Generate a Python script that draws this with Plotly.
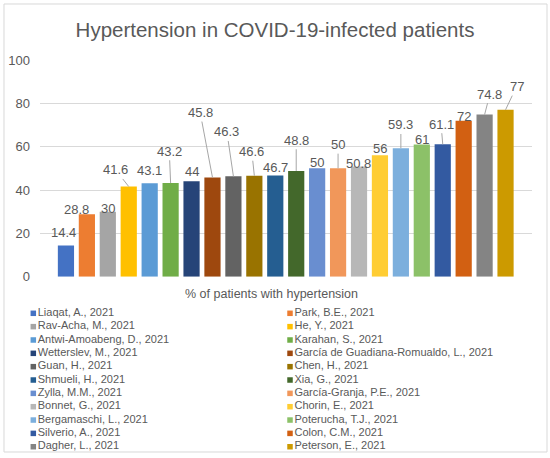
import plotly.graph_objects as go

# one series per study, as in the source spreadsheet
authors = [
    "Liaqat, A., 2021", "Park, B.E., 2021", "Rav-Acha, M., 2021", "He, Y., 2021",
    "Antwi-Amoabeng, D., 2021", "Karahan, S., 2021", "Wetterslev, M., 2021",
    "García de Guadiana-Romualdo, L., 2021", "Guan, H., 2021", "Chen, H., 2021",
    "Shmueli, H., 2021", "Xia, G., 2021", "Zylla, M.M., 2021", "García-Granja, P.E., 2021",
    "Bonnet, G., 2021", "Chorin, E., 2021", "Bergamaschi, L., 2021", "Poterucha, T.J., 2021",
    "Silverio, A., 2021", "Colon, C.M., 2021", "Dagher, L., 2021", "Peterson, E., 2021",
]
hypertension_pct = [14.4, 28.8, 30, 41.6, 43.1, 43.2, 44, 45.8, 46.3, 46.6, 46.7,
                     48.8, 50, 50, 50.8, 56, 59.3, 61, 61.1, 72, 74.8, 77]
bar_colors = [
    "#4472C4", "#ED7D31", "#A5A5A5", "#FFC000", "#5B9BD5", "#70AD47",
    "#264478", "#9E480E", "#636363", "#997300", "#255E91", "#43682B",
    "#698ED0", "#F1975A", "#B7B7B7", "#FFCD33", "#7CAFDD", "#8CC168",
    "#335AA1", "#D26012", "#848484", "#CC9A00",
]
axis_label = "% of patients with hypertension"
y_ticks = [0, 20, 40, 60, 80, 100]

# data label placement (px right, px up, leader line?) - Excel moved these around
label_offsets = [
    (-2.5, 12.8, False), (-10.4, 5, False), (0, 3.4, False), (-13.1, 16.6, True),
    (0, 13.3, False), (-1.3, 31.8, True), (0.6, 9.4, False), (-12.3, 64.9, True),
    (-6.5, 44.4, True), (-2.5, 24, True), (0, 8, False), (0, 30.7, True),
    (0, 6.2, False), (0, 23.7, True), (0, 2.8, False), (0, 6.7, False),
    (0, 23.2, True), (0, 5, False), (-1.7, 20.1, True), (0, 4.5, False),
    (5.3, 20.4, True), (11, 23.2, True),
]

FONT = "Liberation Sans, Arial, sans-serif"
TEXT = "#595959"
GRID = "#D9D9D9"

fig = go.Figure()

for i, (name, val, col) in enumerate(zip(authors, hypertension_pct, bar_colors)):
    fig.add_trace(go.Bar(
        x=[i], y=[val], name=name, marker=dict(color=col, line=dict(width=0)),
        width=0.774, showlegend=False, xaxis="x", yaxis="y",
    ))

# legend drawn as a small scatter, two columns filled row by row
fig.add_trace(go.Scatter(
    x=[i % 2 for i in range(len(authors))],
    y=[i // 2 for i in range(len(authors))],
    mode="markers+text",
    text=authors,
    textposition="middle right",
    textfont=dict(family=FONT, size=11, color=TEXT),
    marker=dict(symbol="square", size=5.5, color=bar_colors),
    cliponaxis=False, showlegend=False, hoverinfo="skip",
    xaxis="x2", yaxis="y2",
))

annotations = []
for i, (val, (dx, dy, leader)) in enumerate(zip(hypertension_pct, label_offsets)):
    ann = dict(x=i, y=val, xref="x", yref="y", text=f"{val:g}",
               font=dict(family=FONT, size=13, color=TEXT))
    if leader:
        ann.update(showarrow=True, ax=dx, ay=-dy, arrowhead=0, arrowwidth=1,
                   arrowcolor="#A6A6A6", standoff=0)
    else:
        ann.update(showarrow=False, xshift=dx, yshift=dy)
    annotations.append(ann)

annotations.append(dict(
    x=0.4803, y=0.4068, xref="paper", yref="paper", text=axis_label, showarrow=False,
    font=dict(family=FONT, size=12.5, color=TEXT),
))

fig.update_layout(
    width=550, height=458,
    margin=dict(l=30, r=18, t=60, b=3, autoexpand=False),
    paper_bgcolor="white", plot_bgcolor="white",
    barmode="overlay",
    font=dict(family=FONT, color=TEXT),
    title=dict(text="Hypertension in COVID-19-infected patients",
               x=0.5, xref="container", xanchor="center",
               y=0.9355, yref="container", yanchor="middle",
               font=dict(family=FONT, size=20.5, color=TEXT)),
    xaxis=dict(domain=[0.0199, 0.9994], range=[-1.24, 22.25], showticklabels=False,
               showgrid=False, zeroline=False, showline=False, fixedrange=True,
               automargin=False),
    yaxis=dict(domain=[0.4514, 1], range=[0, 100], tickvals=y_ticks,
               gridcolor=GRID, gridwidth=1, zeroline=False, showline=False,
               ticks="", ticklabelstandoff=9, automargin=False,
               tickfont=dict(family=FONT, size=13, color=TEXT)),
    xaxis2=dict(domain=[0, 1], range=[-0.0129, 1.9427], visible=False, anchor="y2",
                automargin=False),
    yaxis2=dict(domain=[0, 0.3924], range=[10.62, -0.997], visible=False, anchor="x2",
                automargin=False),
    annotations=annotations,
    shapes=[dict(type="rect", xref="paper", yref="paper",
                 x0=-0.0518, x1=1.0299, y0=0.0076, y1=1.1418,
                 line=dict(color=GRID, width=1), fillcolor="rgba(0,0,0,0)")],
)

# page body has a default 8px margin; drop it so the chart sits at the window origin
fig.write_html("out.html", config={"displayModeBar": False},
               post_script="document.body.style.margin='0';")
